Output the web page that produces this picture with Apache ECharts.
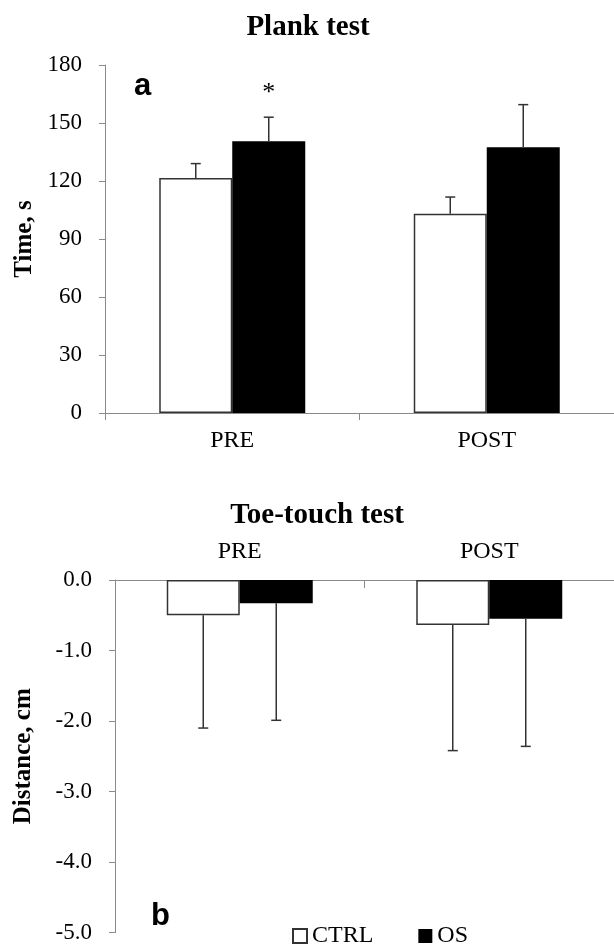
<!DOCTYPE html>
<html>
<head>
<meta charset="utf-8">
<script src="https://cdn.jsdelivr.net/npm/echarts@6/dist/echarts.min.js"></script>
<style>html,body{margin:0;padding:0;background:#fff}#c{width:614px;height:944px}</style>
</head>
<body>
<div id="c"></div>
<script>
// ---- data ----
const categories = ['PRE', 'POST'];
const seriesNames = ['CTRL', 'OS'];
const plankCtrl = [121.5, 103];
const plankCtrlErr = [7.5, 8.7];
const plankOs = [140.5, 137.5];
const plankOsErr = [12.5, 22];
const plankOsSig = ['*', ''];
const toeCtrl = [-0.5, -0.64];
const toeCtrlErr = [1.6, 1.78];
const toeOs = [-0.33, -0.55];
const toeOsErr = [1.66, 1.81];
const plankTicks = { min: 0, max: 180, interval: 30 };
const toeTicks = { min: -5, max: 0, interval: 1 };

const SERIF = 'Liberation Serif';
const SANS = 'Liberation Sans';
const BAR_W = 73;
const AXIS_C = '#8a8a8a';

function errData(vals, errs, sign) {
  return vals.map((v, i) => [i, v, errs[i], sign]);
}
function errRender(params, api) {
  const idx = api.value(0), v = api.value(1), e = api.value(2), sgn = api.value(3);
  const dir = v >= 0 ? 1 : -1;
  const p0 = api.coord([idx, v]);
  const p1 = api.coord([idx, v + dir * e]);
  const x = p0[0] + sgn * BAR_W / 2;
  const cap = 5;
  const st = { stroke: '#333', lineWidth: 1.5 };
  return { type: 'group', children: [
    { type: 'line', shape: { x1: x, y1: p0[1], x2: x, y2: p1[1] }, style: st },
    { type: 'line', shape: { x1: x - cap, y1: p1[1], x2: x + cap, y2: p1[1] }, style: st }
  ] };
}
function sigRender(sigArr) {
  return function (params, api) {
    const base = errRender(params, api);
    const s = sigArr[params.dataIndex];
    if (s) {
      const idx = api.value(0), v = api.value(1), e = api.value(2), sgn = api.value(3);
      const p1 = api.coord([idx, v + e]);
      base.children.push({ type: 'text', style: { text: s, x: p1[0] + sgn * BAR_W / 2, y: p1[1] - 24, align: 'center', verticalAlign: 'middle', font: '26px ' + SERIF, fill: '#000' } });
    }
    return base;
  };
}

const chart = echarts.init(document.getElementById('c'), null, { renderer: 'canvas' });
const ctrlStyle = { color: '#fff', borderColor: '#333', borderWidth: 1.5 };
const osStyle = { color: '#000', borderColor: '#000', borderWidth: 0 };

chart.setOption({
  animation: false,
  backgroundColor: '#fff',
  title: [
    { text: 'Plank test', left: 303, textAlign: 'center', top: 8, textStyle: { fontFamily: SERIF, fontWeight: 'bold', fontSize: 29, color: '#000' } },
    { text: 'Toe-touch test', left: 312, textAlign: 'center', top: 496, textStyle: { fontFamily: SERIF, fontWeight: 'bold', fontSize: 29, color: '#000' } },
    { text: 'a', left: 129, top: 66, textStyle: { fontFamily: SANS, fontWeight: 'bold', fontSize: 31, color: '#000' } },
    { text: 'b', left: 146, top: 896, textStyle: { fontFamily: SANS, fontWeight: 'bold', fontSize: 31, color: '#000' } }
  ],
  legend: {
    data: seriesNames, left: 287, top: 919, icon: 'rect', itemWidth: 14, itemHeight: 14, itemGap: 45,
    textStyle: { fontFamily: SERIF, fontSize: 24, color: '#000' }
  },
  grid: [
    { left: 105, right: -3, top: 65, bottom: 531 },
    { left: 115, right: -9, top: 580, bottom: 8 }
  ],
  xAxis: [
    { type: 'category', gridIndex: 0, data: categories,
      axisLine: { lineStyle: { color: AXIS_C, width: 1 } },
      axisTick: { show: true, length: 7, lineStyle: { color: AXIS_C } },
      axisLabel: { fontFamily: SERIF, fontSize: 24, color: '#000', margin: 16 } },
    { type: 'category', gridIndex: 1, data: categories, position: 'top',
      axisLine: { lineStyle: { color: AXIS_C, width: 1 } },
      axisTick: { show: true, inside: true, length: 8, lineStyle: { color: AXIS_C } },
      axisLabel: { fontFamily: SERIF, fontSize: 24, color: '#000', margin: 16 } }
  ],
  yAxis: [
    { type: 'value', gridIndex: 0, min: plankTicks.min, max: plankTicks.max, interval: plankTicks.interval,
      name: 'Time, s', nameLocation: 'middle', nameGap: 66,
      nameTextStyle: { fontFamily: SERIF, fontWeight: 'bold', fontSize: 25, color: '#000' },
      axisLine: { show: true, lineStyle: { color: AXIS_C, width: 1 } },
      axisTick: { show: true, length: 6, lineStyle: { color: AXIS_C } },
      splitLine: { show: false },
      axisLabel: { fontFamily: SERIF, fontSize: 23, color: '#000', margin: 23 } },
    { type: 'value', gridIndex: 1, min: toeTicks.min, max: toeTicks.max, interval: toeTicks.interval,
      name: 'Distance, cm', nameLocation: 'middle', nameGap: 79,
      nameTextStyle: { fontFamily: SERIF, fontWeight: 'bold', fontSize: 25, color: '#000' },
      axisLine: { show: true, lineStyle: { color: AXIS_C, width: 1 } },
      axisTick: { show: true, length: 6, lineStyle: { color: AXIS_C } },
      splitLine: { show: false },
      axisLabel: { fontFamily: SERIF, fontSize: 23, color: '#000', margin: 23, formatter: v => v.toFixed(1) } }
  ],
  series: [
    { name: 'CTRL', type: 'bar', xAxisIndex: 0, yAxisIndex: 0, data: plankCtrl, barWidth: BAR_W, barGap: '0%', itemStyle: ctrlStyle },
    { name: 'OS', type: 'bar', xAxisIndex: 0, yAxisIndex: 0, data: plankOs, barWidth: BAR_W, barGap: '0%', itemStyle: osStyle },
    { name: 'CTRL', type: 'bar', xAxisIndex: 1, yAxisIndex: 1, data: toeCtrl, barWidth: BAR_W, barGap: '0%', itemStyle: ctrlStyle },
    { name: 'OS', type: 'bar', xAxisIndex: 1, yAxisIndex: 1, data: toeOs, barWidth: BAR_W, barGap: '0%', itemStyle: osStyle },
    { type: 'custom', xAxisIndex: 0, yAxisIndex: 0, renderItem: errRender, data: errData(plankCtrl, plankCtrlErr, -1), z: 5, encode: { x: 0, y: 1 } },
    { type: 'custom', xAxisIndex: 0, yAxisIndex: 0, renderItem: sigRender(plankOsSig), data: errData(plankOs, plankOsErr, 1), z: 5, encode: { x: 0, y: 1 } },
    { type: 'custom', xAxisIndex: 1, yAxisIndex: 1, renderItem: errRender, data: errData(toeCtrl, toeCtrlErr, -1), z: 5, encode: { x: 0, y: 1 } },
    { type: 'custom', xAxisIndex: 1, yAxisIndex: 1, renderItem: errRender, data: errData(toeOs, toeOsErr, 1), z: 5, encode: { x: 0, y: 1 } }
  ]
});
</script>
</body>
</html>
